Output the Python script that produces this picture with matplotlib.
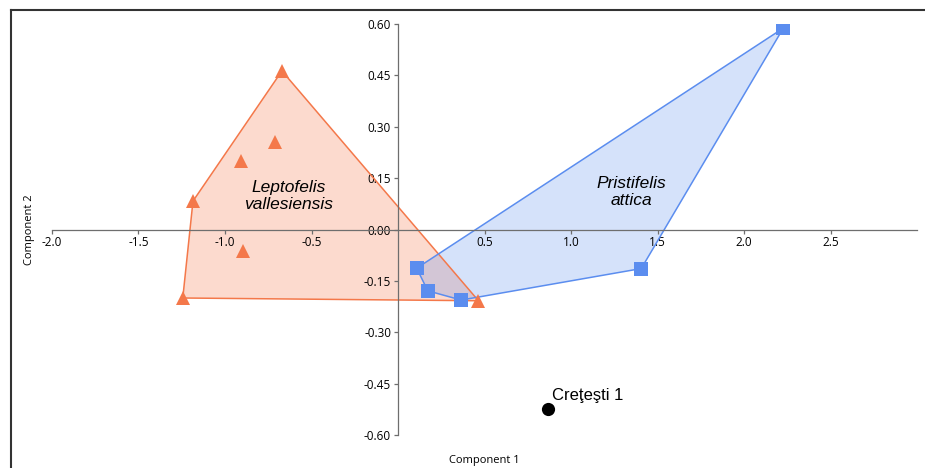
import matplotlib.pyplot as plt
from matplotlib.lines import Line2D

# Leptofelis vallesiensis scores
lepto_x = [-0.671, -0.71, -0.905, -1.185, -0.897, -1.244, 0.465]
lepto_y = [0.463, 0.256, 0.200, 0.083, -0.063, -0.200, -0.208]
lepto_hull = [0, 6, 5, 3]

# Pristifelis attica scores
pristi_x = [2.227, 0.108, 0.172, 0.365, 1.406]
pristi_y = [0.588, -0.113, -0.179, -0.206, -0.114]
pristi_hull = [0, 1, 2, 3, 4]

# Creţeşti specimen
cret_x = [0.866]
cret_y = [-0.525]
cret_label = "Creţeşti 1"

x_ticks = [-2.0, -1.5, -1.0, -0.5, 0.5, 1.0, 1.5, 2.0, 2.5]
y_ticks = [-0.60, -0.45, -0.30, -0.15, 0.00, 0.15, 0.30, 0.45, 0.60]

ORANGE = "#F4784A"
BLUE = "#5B8DEF"
AXIS_GREY = "#6E6E6E"


def main():
    fig = plt.figure(figsize=(9.25, 4.68), dpi=100)
    ax = fig.add_axes([0.0562, 0.0705, 0.9352, 0.8782])

    # convex hulls
    hx = [lepto_x[i] for i in lepto_hull]
    hy = [lepto_y[i] for i in lepto_hull]
    ax.fill(hx, hy, facecolor=ORANGE, alpha=0.27, edgecolor="none", zorder=1)
    ax.fill(hx, hy, facecolor="none", edgecolor=ORANGE, linewidth=1.1, zorder=2)

    hx = [pristi_x[i] for i in pristi_hull]
    hy = [pristi_y[i] for i in pristi_hull]
    ax.fill(hx, hy, facecolor=BLUE, alpha=0.25, edgecolor="none", zorder=1)
    ax.fill(hx, hy, facecolor="none", edgecolor=BLUE, linewidth=1.1, zorder=2)

    ax.plot(lepto_x, lepto_y, "^", color=ORANGE, markersize=10,
            markeredgewidth=0, zorder=4)
    ax.plot(pristi_x, pristi_y, "s", color=BLUE, markersize=10,
            markeredgewidth=0, zorder=4)
    ax.plot(cret_x, cret_y, "o", color="black", markersize=9.5,
            markeredgewidth=0, zorder=4)

    ax.annotate(cret_label, (cret_x[0], cret_y[0]), textcoords="offset points",
                xytext=(3, 7), va="baseline", ha="left", fontsize=12,
                family="Liberation Sans")

    ax.text(-0.63, 0.098, "Leptofelis\nvallesiensis", ha="center", va="center",
            fontsize=12.5, style="italic", family="Liberation Sans",
            linespacing=1.15, zorder=5)
    ax.text(1.347, 0.11, "Pristifelis\nattica", ha="center", va="center",
            fontsize=12.5, style="italic", family="Liberation Sans",
            linespacing=1.15, zorder=5)

    ax.set_xlim(-2.0, 3.0)
    ax.set_ylim(-0.6, 0.6)

    for side in ("top", "right"):
        ax.spines[side].set_visible(False)
    ax.spines["left"].set_position(("data", 0))
    ax.spines["bottom"].set_position(("data", 0))
    for side in ("left", "bottom"):
        ax.spines[side].set_color(AXIS_GREY)
        ax.spines[side].set_linewidth(0.9)
        ax.spines[side].set_zorder(3)

    ax.set_xticks(x_ticks)
    ax.set_xticklabels([f"{v:.1f}" for v in x_ticks])
    ax.set_yticks(y_ticks)
    ax.set_yticklabels([f"{v:.2f}" for v in y_ticks])
    ax.tick_params(axis="both", direction="out", length=3, width=0.9,
                   color=AXIS_GREY, labelsize=8.5, pad=2)
    for lab in ax.get_xticklabels() + ax.get_yticklabels():
        lab.set_family("Open Sans")
    ax.patch.set_visible(False)

    fig.text(0.5235, 0.015, "Component 1", ha="center", va="center",
             fontsize=8, family="Open Sans")
    fig.text(0.032, 0.51, "Component 2", ha="center", va="center",
             rotation=90, fontsize=8, family="Open Sans")

    # screenshot frame (top and left edges)
    fig.add_artist(Line2D([0.012, 1.0], [0.979, 0.979], color="#333333",
                          linewidth=1.5, transform=fig.transFigure))
    fig.add_artist(Line2D([0.012, 0.012], [0.0, 0.979], color="#333333",
                          linewidth=1.5, transform=fig.transFigure))

    fig.savefig("out.png", dpi=100)
    plt.close(fig)


if __name__ == "__main__":
    main()
